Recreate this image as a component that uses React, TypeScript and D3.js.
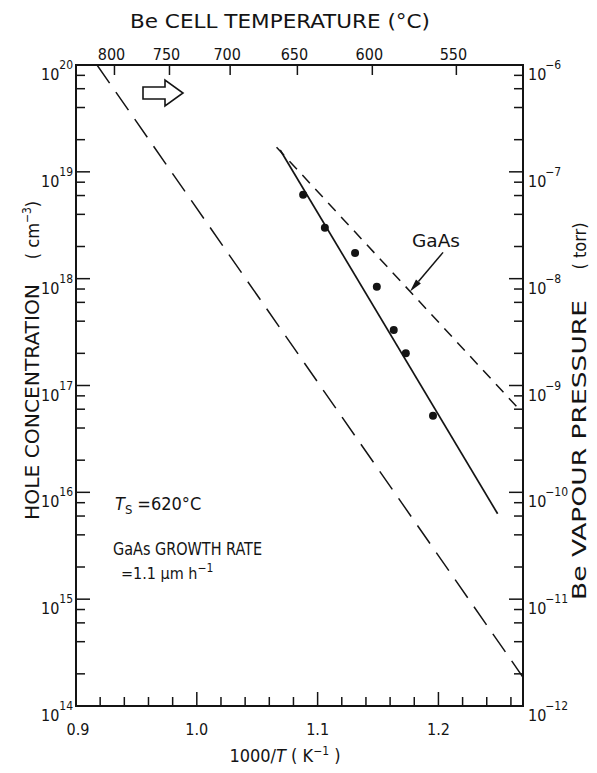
import React from "react";
import * as d3 from "d3";

// Be-doped GaAs: measured hole concentration vs Be cell temperature
const measuredInvT = [1.088, 1.106, 1.131, 1.149, 1.163, 1.173, 1.1955];
const measuredHoles = [6.1e18, 3.0e18, 1.74e18, 8.4e17, 3.3e17, 2.0e17, 5.2e16];

// least-squares fit through the measured points (solid)
const fitInvT = [1.069, 1.249];
const fitHoles = [1.6e19, 6.3e15];

// GaAs reference curve (short dashes)
const gaasInvT = [1.066, 1.268];
const gaasHoles = [1.7e19, 5.8e16];

// Be vapour pressure, right axis (long dashes)
const vapourInvT = [0.9174, 1.27];
const vapourTorr = [1.0e-6, 1.86e-12];

const cellTempTicks = [800, 750, 700, 650, 600, 550];
const invTTickLabels = [0.9, 1.0, 1.1, 1.2];
const holeDecades = [14, 15, 16, 17, 18, 19, 20];
const pressureDecades = [-12, -11, -10, -9, -8, -7, -6];

const W = 597;
const H = 773;
const L = 76, R = 523, T = 65, B = 706;
const FONT = "'Liberation Sans Narrow', 'DejaVu Sans Condensed', 'Liberation Sans', sans-serif";
const INK = "#141414";

export default function App() {
  const x = d3.scaleLinear().domain([0.9, 1.27]).range([L, R]);
  const yH = d3.scaleLog().domain([1e14, 1e20]).range([B, T]);
  const yP = d3.scaleLog().domain([1e-12, 1e-6]).range([B, T]);

  const holeLine = d3
    .line<[number, number]>()
    .x((d) => x(d[0]))
    .y((d) => yH(d[1]));
  const torrLine = d3
    .line<[number, number]>()
    .x((d) => x(d[0]))
    .y((d) => yP(d[1]));

  const fitPath = holeLine(fitInvT.map((v, i) => [v, fitHoles[i]]))!;
  const gaasPath = holeLine(gaasInvT.map((v, i) => [v, gaasHoles[i]]))!;
  const vapourPath = torrLine(vapourInvT.map((v, i) => [v, vapourTorr[i]]))!;

  // minor ticks at 2,4,6,8 within every decade
  const minorMult = [2, 4, 6, 8];
  const minorY: number[] = [];
  for (let d = 14; d < 20; d++) {
    for (const m of minorMult) minorY.push(yH(m * Math.pow(10, d)));
  }

  const xMinor = d3.range(0.92, 1.27, 0.02).map((v) => +v.toFixed(2));

  // GaAs pointer: tip lands on the GaAs curve
  const tipInvT = 1.1765;
  const gaasLog = d3
    .scaleLinear()
    .domain(gaasInvT)
    .range(gaasHoles.map((v) => Math.log10(v)));
  const tipX = x(tipInvT);
  const tipY = yH(Math.pow(10, gaasLog(tipInvT)));
  const tailX = tipX + 33;
  const tailY = tipY - 39;
  const ang = Math.atan2(tipY - tailY, tipX - tailX);
  const headLen = 13, headW = 3.2;
  const hx = tipX - headLen * Math.cos(ang);
  const hy = tipY - headLen * Math.sin(ang);
  const px = -Math.sin(ang) * headW;
  const py = Math.cos(ang) * headW;

  return (
    <svg
      width={W}
      height={H}
      viewBox={`0 0 ${W} ${H}`}
      style={{ position: "absolute", left: 0, top: 0, background: "#fff" }}
      fontFamily={FONT}
      fill={INK}
    >
      <defs>
        <clipPath id="frame">
          <rect x={L} y={T} width={R - L} height={B - T} />
        </clipPath>
      </defs>
      <rect x={0} y={0} width={W} height={H} fill="#fff" />

      {/* title on top */}
      <text x={280} y={28} fontSize={19} textLength={300} lengthAdjust="spacingAndGlyphs" textAnchor="middle">
        Be CELL TEMPERATURE (°C)
      </text>

      {/* data lines */}
      <g clipPath="url(#frame)" fill="none" stroke={INK}>
        <path d={vapourPath} strokeWidth={1.5} strokeDasharray="22 11" />
        <path d={gaasPath} strokeWidth={1.5} strokeDasharray="11 8" />
        <path d={fitPath} strokeWidth={1.7} />
      </g>

      {measuredInvT.map((v, i) => (
        <circle key={i} cx={x(v)} cy={yH(measuredHoles[i])} r={4} fill={INK} />
      ))}

      {/* frame */}
      <rect x={L} y={T} width={R - L} height={B - T} fill="none" stroke={INK} strokeWidth={2} />

      {/* bottom axis ticks */}
      <g stroke={INK} strokeWidth={1.5}>
        {xMinor.map((v) => {
          const major = Math.abs(v * 10 - Math.round(v * 10)) < 1e-6;
          return <line key={v} x1={x(v)} x2={x(v)} y1={B} y2={B - (major ? 14 : 9)} />;
        })}
      </g>
      {invTTickLabels.map((v) => (
        <text key={v} x={x(v) + (v === 0.9 ? 2 : 0)} y={735} fontSize={16} textAnchor="middle">
          {v.toFixed(1)}
        </text>
      ))}
      <text x={285} y={762} fontSize={18} textAnchor="middle">
        1000/<tspan fontStyle="italic">T</tspan> ( K
        <tspan fontSize={12} dy={-7}>−1</tspan>
        <tspan dy={7}> )</tspan>
      </text>

      {/* top axis: cell temperature */}
      <g stroke={INK} strokeWidth={1.5}>
        {cellTempTicks.map((t) => {
          const xv = x(1000 / (t + 273.15));
          return <line key={t} x1={xv} x2={xv} y1={T} y2={T + 10} />;
        })}
      </g>
      {cellTempTicks.map((t) => (
        <text key={t} x={x(1000 / (t + 273.15)) - 3} y={60} fontSize={16} textAnchor="middle">
          {t}
        </text>
      ))}

      {/* axis ticks, both sides */}
      <g stroke={INK} strokeWidth={1.5}>
        {holeDecades.map((d) => (
          <line key={d} x1={L} x2={L + 14} y1={yH(Math.pow(10, d))} y2={yH(Math.pow(10, d))} />
        ))}
        {minorY.map((yv, i) => (
          <line key={i} x1={L} x2={L + 9} y1={yv} y2={yv} />
        ))}
        {pressureDecades.map((d) => (
          <line key={d} x1={R} x2={R - 14} y1={yP(Math.pow(10, d))} y2={yP(Math.pow(10, d))} />
        ))}
        {minorY.map((yv, i) => (
          <line key={"r" + i} x1={R} x2={R - 9} y1={yv} y2={yv} />
        ))}
      </g>

      {holeDecades.map((d) => {
        const yv = yH(Math.pow(10, d));
        return (
          <text key={d} x={41} y={yv + 15} fontSize={16}>
            10
            <tspan fontSize={12} dx={0} dy={-11}>{d}</tspan>
          </text>
        );
      })}
      {pressureDecades.map((d) => {
        const yv = yP(Math.pow(10, d));
        return (
          <text key={d} x={528} y={yv + 15} fontSize={16}>
            10
            <tspan fontSize={12} dx={-1} dy={-11}>{"−" + Math.abs(d)}</tspan>
          </text>
        );
      })}

      {/* axis titles */}
      <g transform="translate(39,402) rotate(-90)">
        <text x={0} y={0} fontSize={19} textAnchor="middle" textLength={236} lengthAdjust="spacingAndGlyphs">
          HOLE CONCENTRATION
        </text>
      </g>
      <g transform="translate(39,230) rotate(-90)">
        <text x={0} y={0} fontSize={18} textAnchor="middle">
          ( cm<tspan fontSize={12} dy={-8}>−3</tspan>
          <tspan dy={8}>)</tspan>
        </text>
      </g>
      <g transform="translate(586,450) rotate(-90)">
        <text x={0} y={0} fontSize={19} textAnchor="middle" textLength={300} lengthAdjust="spacingAndGlyphs">
          Be VAPOUR  PRESSURE
        </text>
      </g>
      <g transform="translate(586,246) rotate(-90)">
        <text x={0} y={0} fontSize={18} textAnchor="middle">
          ( torr)
        </text>
      </g>

      {/* hollow arrow */}
      <path
        d="M143,87 L165,87 L165,80 L183,93 L165,106 L165,99 L143,99 Z"
        fill="#fff"
        stroke={INK}
        strokeWidth={1.6}
        strokeLinejoin="miter"
      />

      {/* GaAs label + pointer */}
      <text x={412} y={247} fontSize={18} textLength={48} lengthAdjust="spacingAndGlyphs">
        GaAs
      </text>
      <line x1={tailX} y1={tailY} x2={hx} y2={hy} stroke={INK} strokeWidth={1.5} />
      <path d={`M${tipX},${tipY} L${hx + px},${hy + py} L${hx - px},${hy - py} Z`} fill={INK} />

      {/* growth conditions */}
      <text x={115} y={510} fontSize={18}>
        <tspan fontStyle="italic">T</tspan>
        <tspan fontSize={13} dy={4}>S</tspan>
        <tspan dy={-4} dx={5}>=620°C</tspan>
      </text>
      <text x={113} y={555} fontSize={18} textLength={149} lengthAdjust="spacingAndGlyphs">
        GaAs GROWTH RATE
      </text>
      <text x={121} y={579} fontSize={16}>
        =1.1 μm h<tspan fontSize={12} dy={-7}>−1</tspan>
      </text>
    </svg>
  );
}
